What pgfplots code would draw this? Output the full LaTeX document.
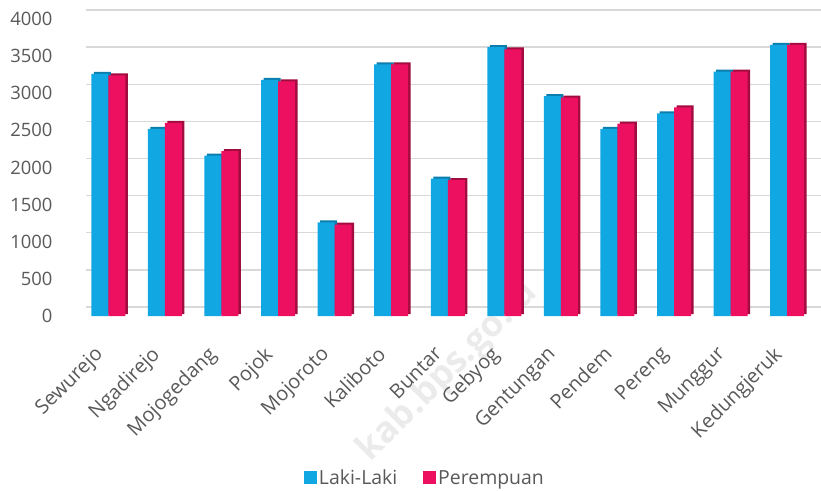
\documentclass[border=0pt]{standalone}
\usepackage{fontspec}
\setmainfont{Open Sans}
\usepackage{pgfplots}
\pgfplotsset{compat=1.18}

\definecolor{txt}{HTML}{595959}
\definecolor{gridc}{HTML}{D9D9D9}
\definecolor{blueF}{HTML}{10A7E2}
\definecolor{blueS}{HTML}{0B7EAE}
\definecolor{redF}{HTML}{EE1060}
\definecolor{redS}{HTML}{A30C3E}

% values per desa: laki-laki, perempuan
\pgfplotstableread{
x lk pr
0 3260 3240
1 2520 2600
2 2160 2220
3 3180 3160
4 1260 1230
5 3390 3390
6 1850 1830
7 3620 3590
8 2960 2940
9 2520 2590
10 2730 2810
11 3290 3290
12 3650 3650
}\datatab

\begin{document}
\begin{tikzpicture}
\useasboundingbox (0,0) rectangle (821bp,-491bp);
% watermark
\node[rotate=45, text=gray!16, font=\fontsize{36}{40}\selectfont\bfseries]
  at (448bp,-372bp) {kab.bps.go.id};
\begin{axis}[
  at={(80bp,-316bp)}, anchor=south west,
  scale only axis,
  width=735.5bp, height=297bp,
  clip=false,
  ymin=0, ymax=4000,
  ytick={0,500,...,4000},
  xmin=-0.5, xmax=12.5,
  xtick={0,...,12},
  xticklabels={Sewurejo,Ngadirejo,Mojogedang,Pojok,Mojoroto,Kaliboto,Buntar,Gebyog,Gentungan,Pendem,Pereng,Munggur,Kedungjeruk},
  axis line style={draw=none},
  major tick length=0pt,
  ymajorgrids,
  grid style={draw=gridc, line width=1.3bp, xshift=6bp, yshift=9bp},
  /pgf/number format/assume math mode=true,
  /pgf/number format/1000 sep={},
  yticklabel style={font=\fontsize{18.5}{20}\selectfont, text=txt, anchor=east, xshift=-24bp},
  xticklabel style={font=\fontsize{20}{22}\selectfont, text=txt, xshift=-15bp, yshift=-24bp, rotate=45, anchor=north east},
  ybar, bar width=17bp,
  legend style={at={(0.469,-0.545)}, anchor=center, draw=none, fill=none,
    font=\fontsize{19.5}{21}\selectfont, text=txt,
    /tikz/every even column/.append style={column sep=24bp}},
  legend columns=2,
  legend image code/.code={\fill[#1] (0bp,-6.5bp) rectangle (13bp,6.5bp);},
]
\addplot[draw=none, fill=blueS, bar shift=-6bp, yshift=2bp, forget plot] table[x=x,y=lk] {\datatab};
\addplot[draw=none, fill=blueF, bar shift=-8.5bp] table[x=x,y=lk] {\datatab};
\addlegendentry{Laki-Laki}
\addplot[draw=none, fill=redS, bar shift=11bp, yshift=2bp, forget plot] table[x=x,y=pr] {\datatab};
\addplot[draw=none, fill=redF, bar shift=8.5bp] table[x=x,y=pr] {\datatab};
\addlegendentry{Perempuan}
\end{axis}
\end{tikzpicture}
\end{document}
